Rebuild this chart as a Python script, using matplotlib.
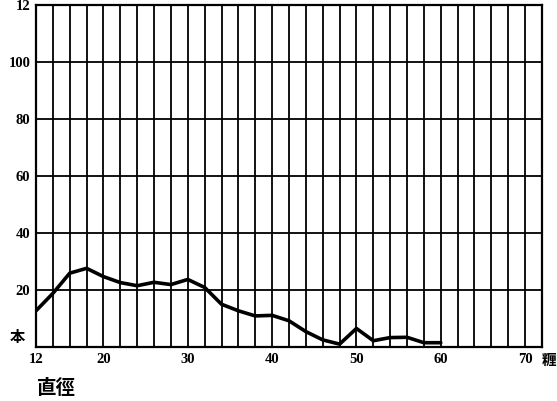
import matplotlib
matplotlib.use("Agg")
import matplotlib.pyplot as plt

# diameter classes (cm) and number of trees
diameters = [12, 14, 16, 18, 20, 22, 24, 26, 28, 30, 32, 34, 36, 38, 40,
             42, 44, 46, 48, 50, 52, 54, 56, 58, 60]
counts = [12.7, 18.8, 25.9, 27.6, 24.7, 22.6, 21.5, 22.7, 21.9, 23.7, 20.9,
          15.0, 12.7, 10.9, 11.1, 9.2, 5.4, 2.5, 1.0, 6.5, 2.2, 3.3, 3.4, 1.5, 1.5]

x_ticks = [12, 20, 30, 40, 50, 60, 70]
x_ticklabels = ["12", "20", "30", "40", "50", "60", "70"]
y_ticks = [20, 40, 60, 80, 100, 120]
y_ticklabels = ["20", "40", "60", "80", "100", "12"]

SERIF = ["Liberation Serif", "DejaVu Serif"]
CJK = ["Noto Sans CJK JP", "DejaVu Sans"]

fig = plt.figure(figsize=(5.57, 4.01), dpi=100)
ax = fig.add_axes([0.0646, 0.1347, 0.9084, 0.8528])

ax.set_xlim(12, 72)
ax.set_ylim(0, 120)

# grid: every 2 cm vertically, every 20 trees horizontally
for gx in range(14, 72, 2):
    ax.axvline(gx, color="black", lw=1.3, zorder=1)
for gy in y_ticks[:-1]:
    ax.axhline(gy, color="black", lw=1.3, zorder=1)

ax.plot(diameters, counts, color="black", lw=2.6, solid_joinstyle="round",
        solid_capstyle="round", zorder=3)

for s in ax.spines.values():
    s.set_linewidth(1.6)
    s.set_color("black")

ax.set_xticks(x_ticks)
ax.set_xticklabels(x_ticklabels, family=SERIF, fontweight="bold", fontsize=10.5)
ax.set_yticks(y_ticks)
ax.set_yticklabels(y_ticklabels, family=SERIF, fontweight="bold", fontsize=10.5)
ax.tick_params(length=0, pad=4)

ax.text(-0.022, 0.03, "本", transform=ax.transAxes, ha="right", va="center",
        family=CJK, fontweight="bold", fontsize=11)
fig.text(0.998, 0.102, "糎", ha="right", va="center",
         family=CJK, fontweight="bold", fontsize=10.5)
fig.text(0.066, 0.032, "直徑", ha="left", va="center",
         family=CJK, fontweight="bold", fontsize=14)

fig.savefig("out.png", dpi=100)
